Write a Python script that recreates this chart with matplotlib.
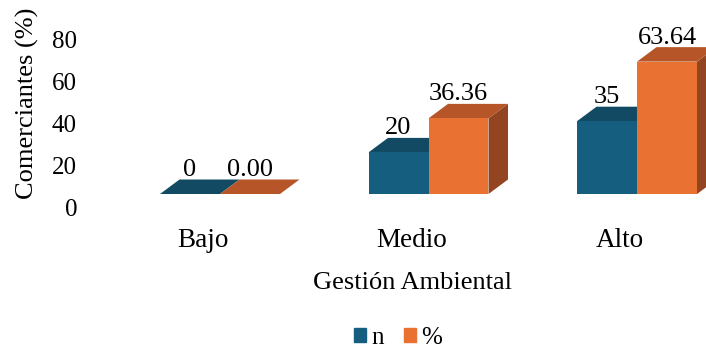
import matplotlib.pyplot as plt
from matplotlib.patches import Polygon, Patch
from matplotlib.transforms import ScaledTranslation

plt.rcParams['font.family'] = ['Liberation Serif', 'DejaVu Serif']

niveles = ['Bajo', 'Medio', 'Alto']
n_vals = [0, 20, 35]
pct_vals = [0.00, 36.36, 63.64]
n_labels = ['0', '20', '35']
pct_labels = ['0.00', '36.36', '63.64']
yticks = [0, 20, 40, 60, 80]

# colores: frente, tapa, lateral
azul = ('#165e80', '#124a63', '#0f3f55')
naranja = ('#e97232', '#b65628', '#934421')

W, H = 706, 351
fig = plt.figure(figsize=(W / 100, H / 100), dpi=100)

# ejes principales: base de las barras a 194 px desde arriba, 2.08 px por unidad
base_px = H - 194
ymax = (H - base_px) / 2.08
ax = fig.add_axes([0, base_px / H, 1, 1 - base_px / H])
ax.set_xlim(-220 / 208.5, (W - 220) / 208.5)
ax.set_ylim(0, ymax)
ax.axis('off')

# pared de fondo con la escala del eje Y (algo más abajo que la base)
wall = fig.add_axes([77 / W, (base_px - 13) / H, 0.001, 1 - base_px / H])
wall.set_ylim(0, ymax * 2.08 / 2.1)
wall.set_yticks(yticks)
wall.tick_params(axis='y', length=0, labelsize=18, pad=0)
wall.set_xticks([])
for s in wall.spines.values():
    s.set_visible(False)
wall.patch.set_visible(False)

bw = 60 / 208.5      # ancho de cada barra
dx = 19.5 / 208.5    # profundidad en x
dy = 14.5 / 2.08     # profundidad en y


def barra3d(x0, v, cols):
    frente, tapa, lado = cols
    if v > 0:
        ax.add_patch(Polygon([(x0, 0), (x0 + bw, 0), (x0 + bw, v), (x0, v)],
                             closed=True, fc=frente, ec='none', zorder=3))
        ax.add_patch(Polygon([(x0 + bw, 0), (x0 + bw + dx, dy),
                              (x0 + bw + dx, v + dy), (x0 + bw, v)],
                             closed=True, fc=lado, ec='none', zorder=2))
    ax.add_patch(Polygon([(x0, v), (x0 + bw, v), (x0 + bw + dx, v + dy),
                          (x0 + dx, v + dy)],
                         closed=True, fc=tapa, ec='none', zorder=2))


lbl_off = ScaledTranslation(0, 2.5 / 72, fig.dpi_scale_trans)
for i in range(len(niveles)):
    barra3d(i - bw, n_vals[i], azul)
    barra3d(i, pct_vals[i], naranja)
    ax.text(i - bw / 2, n_vals[i] + dy, n_labels[i], ha='center',
            va='baseline', fontsize=19, transform=ax.transData + lbl_off)
    ax.text(i + bw / 2, pct_vals[i] + dy, pct_labels[i], ha='center',
            va='baseline', fontsize=19, transform=ax.transData + lbl_off)

# etiquetas de categoría
cat_off = ScaledTranslation(-17 / 100, 0, fig.dpi_scale_trans)
for i, nombre in enumerate(niveles):
    ax.text(i, -22.5, nombre, ha='center', va='center', fontsize=19.5,
            transform=ax.transData + cat_off, clip_on=False)

fig.text(413 / W, 1 - 283 / H, 'Gestión Ambiental', ha='center',
         va='center', fontsize=19)
fig.text(27 / W, 1 - 103 / H, 'Comerciantes (%)', ha='center', va='center',
         rotation=90, fontsize=19)

handles = [Patch(color=azul[0], label='n'), Patch(color=naranja[0], label='%')]
fig.legend(handles=handles, loc='center', bbox_to_anchor=(398 / W, 1 - 338 / H),
           ncol=2, frameon=False, fontsize=18, handlelength=0.5,
           handleheight=0.5, handletextpad=0.2, columnspacing=0.8,
           borderpad=0.1)

fig.savefig('out.png', dpi=100)
